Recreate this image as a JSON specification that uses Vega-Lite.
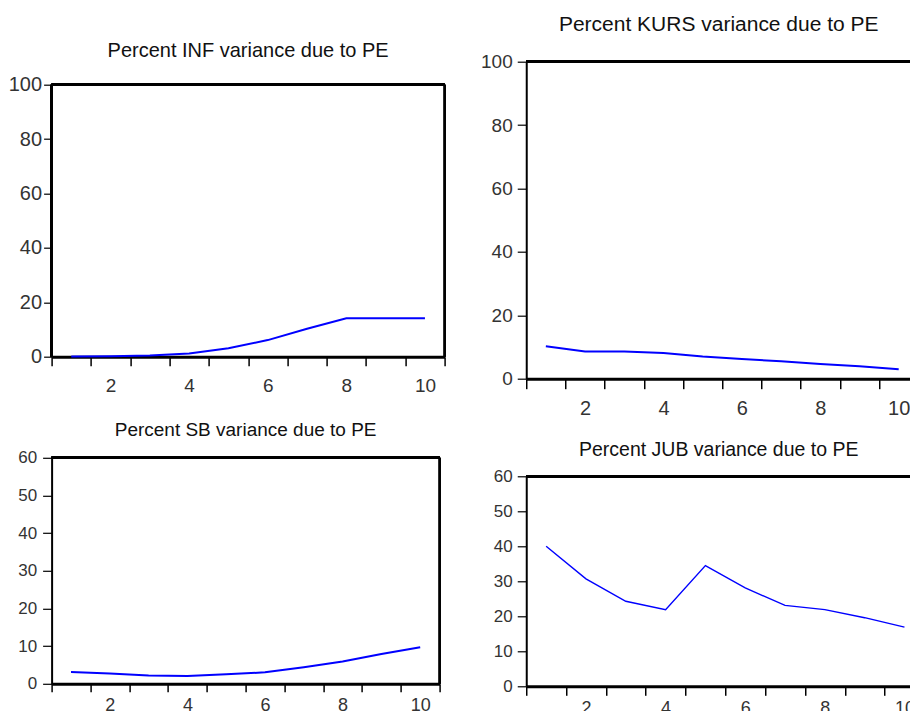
{
  "$schema": "https://vega.github.io/schema/vega-lite/v6.json",
  "padding": {"left": 7.6, "top": 13.7, "right": 0, "bottom": 0},
  "background": "white",
  "datasets": {
    "fevd": [
      {"period": 1, "INF": 0.1, "KURS": 10.2, "SB": 3.1, "JUB": 40.0},
      {"period": 2, "INF": 0.2, "KURS": 8.6, "SB": 2.7, "JUB": 30.7},
      {"period": 3, "INF": 0.4, "KURS": 8.6, "SB": 2.2, "JUB": 24.3},
      {"period": 4, "INF": 1.2, "KURS": 8.1, "SB": 2.1, "JUB": 21.9},
      {"period": 5, "INF": 3.1, "KURS": 7.0, "SB": 2.5, "JUB": 34.5},
      {"period": 6, "INF": 6.1, "KURS": 6.2, "SB": 3.05, "JUB": 28.1},
      {"period": 7, "INF": 10.3, "KURS": 5.5, "SB": 4.4, "JUB": 23.1},
      {"period": 8, "INF": 14.1, "KURS": 4.6, "SB": 5.9, "JUB": 21.9},
      {"period": 9, "INF": 14.1, "KURS": 3.9, "SB": 7.9, "JUB": 19.6},
      {"period": 10, "INF": 14.1, "KURS": 3.0, "SB": 9.7, "JUB": 16.9}
    ]
  },
  "config": {
    "view": {"stroke": null},
    "font": "Liberation Sans",
    "axis": {
      "grid": false,
      "domainColor": "#000",
      "tickColor": "#000",
      "labelColor": "#333",
      "labelFont": "Liberation Sans",
      "tickCount": 40,
      "title": null
    },
    "title": {"color": "#111", "font": "Liberation Sans", "fontWeight": "normal", "frame": "group", "anchor": "middle", "baseline": "top"}
  },
  "columns": 2,
  "align": "none",
  "spacing": 15.65,
  "concat": [
    {
      "spacing": 25.1,
      "vconcat": [
        {
          "width": 393,
          "height": 295,
          "title": {"text": "Percent INF variance due to PE", "fontSize": 20, "offset": 0.5},
          "data": {"name": "fevd"},
          "layer": [
            {"mark": {"type": "rule", "color": "#000", "strokeWidth": 2.5}, "encoding": {"y": {"datum": 100}}},
            {"mark": {"type": "rule", "color": "#000", "strokeWidth": 1.5}, "encoding": {"x": {"datum": 10.5}, "y": {"datum": 0}, "y2": {"datum": 100}}},
            {"mark": {"type": "rule", "color": "#000", "strokeWidth": 2}, "encoding": {"x": {"datum": 0.5}, "y": {"datum": 0}, "y2": {"datum": 100}}},
            {
              "mark": {"type": "line", "color": "#0000ff", "strokeWidth": 2},
              "encoding": {
                "x": {"field": "period", "type": "quantitative",
                  "scale": {"domain": [0.5, 10.5], "nice": false, "zero": false},
                  "axis": {"values": [0.5, 1.5, 2.5, 3.5, 4.5, 5.5, 6.5, 7.5, 8.5, 9.5, 10.5], "tickCount": 40, "tickSize": 9, "tickWidth": 1.5, "domainWidth": 3,
                    "labelExpr": "((datum.value + 0.5) % 2 == 0) ? format(datum.value + 0.5, 'd') : ''",
                    "labelOffset": 19.65, "labelPadding": 10.5, "labelFontSize": 19, "labelFlush": false, "labelOverlap": false, "labelBound": false}},
                "y": {"field": "INF", "type": "quantitative",
                  "scale": {"domain": [0, 108.456], "nice": false},
                  "axis": {"values": [0, 20, 40, 60, 80, 100], "tickCount": 40, "tickSize": 8, "tickWidth": 1.2, "domain": false, "labelPadding": 2, "labelFontSize": 20}}
              }
            }
          ]
        },
        {
          "width": 388,
          "height": 226,
          "title": {"text": "Percent SB variance due to PE", "fontSize": 19, "offset": 8.6},
          "data": {"name": "fevd"},
          "layer": [
            {"mark": {"type": "rule", "color": "#000", "strokeWidth": 2.5}, "encoding": {"y": {"datum": 60}}},
            {"mark": {"type": "rule", "color": "#000", "strokeWidth": 1.5}, "encoding": {"x": {"datum": 10.5}}},
            {
              "mark": {"type": "line", "color": "#0000ff", "strokeWidth": 2},
              "encoding": {
                "x": {"field": "period", "type": "quantitative",
                  "scale": {"domain": [0.5, 10.5], "nice": false, "zero": false},
                  "axis": {"values": [0.5, 1.5, 2.5, 3.5, 4.5, 5.5, 6.5, 7.5, 8.5, 9.5, 10.5], "tickCount": 40, "tickSize": 8, "tickWidth": 1.5, "domainWidth": 3,
                    "labelExpr": "((datum.value + 0.5) % 2 == 0) ? format(datum.value + 0.5, 'd') : ''",
                    "labelOffset": 19.4, "labelPadding": 5, "labelFontSize": 18, "labelFlush": false, "labelOverlap": false, "labelBound": false}},
                "y": {"field": "SB", "type": "quantitative",
                  "scale": {"domain": [0, 60], "nice": false},
                  "axis": {"values": [0, 10, 20, 30, 40, 50, 60], "tickCount": 40, "tickSize": 9, "tickWidth": 1.2, "domainWidth": 2, "labelPadding": 6, "labelFontSize": 17}}
              }
            }
          ]
        }
      ]
    },
    {
      "spacing": 20.6,
      "vconcat": [
        {
          "width": 385,
          "height": 317,
          "title": {"text": "Percent KURS variance due to PE", "fontSize": 21, "offset": 17.8},
          "data": {"name": "fevd"},
          "layer": [
            {"mark": {"type": "rule", "color": "#000", "strokeWidth": 2.5}, "encoding": {"y": {"datum": 100}}},
            {
              "mark": {"type": "line", "color": "#0000ff", "strokeWidth": 2},
              "encoding": {
                "x": {"field": "period", "type": "quantitative",
                  "scale": {"domain": [0.5, 10.32], "nice": false, "zero": false},
                  "axis": {"values": [0.5, 1.5, 2.5, 3.5, 4.5, 5.5, 6.5, 7.5, 8.5, 9.5], "tickCount": 40, "tickSize": 10, "tickWidth": 1.5, "domainWidth": 3,
                    "labelExpr": "((datum.value + 0.5) % 2 == 0) ? format(datum.value + 0.5, 'd') : ''",
                    "labelOffset": 19.6, "labelPadding": 10, "labelFontSize": 20, "labelFlush": false, "labelOverlap": false, "labelBound": false}},
                "y": {"field": "KURS", "type": "quantitative",
                  "scale": {"domain": [0, 100], "nice": false},
                  "axis": {"values": [0, 20, 40, 60, 80, 100], "tickCount": 40, "tickSize": 9, "tickWidth": 1.2, "domainWidth": 2, "labelPadding": 5, "labelFontSize": 19}}
              }
            }
          ]
        },
        {
          "width": 385,
          "height": 210,
          "title": {"text": "Percent JUB variance due to PE", "fontSize": 19.5, "offset": 7.2},
          "data": {"name": "fevd"},
          "layer": [
            {"mark": {"type": "rule", "color": "#000", "strokeWidth": 2.5}, "encoding": {"y": {"datum": 60}}},
            {
              "mark": {"type": "line", "color": "#0000ff", "strokeWidth": 1.4},
              "encoding": {
                "x": {"field": "period", "type": "quantitative",
                  "scale": {"domain": [0.5, 10.17], "nice": false, "zero": false},
                  "axis": {"values": [0.5, 1.5, 2.5, 3.5, 4.5, 5.5, 6.5, 7.5, 8.5, 9.5], "tickCount": 40, "tickSize": 9, "tickWidth": 1.5, "domainWidth": 3,
                    "labelExpr": "((datum.value + 0.5) % 2 == 0) ? format(datum.value + 0.5, 'd') : ''",
                    "labelOffset": 19.9, "labelPadding": 4, "labelFontSize": 18, "labelFlush": false, "labelOverlap": false, "labelBound": false}},
                "y": {"field": "JUB", "type": "quantitative",
                  "scale": {"domain": [0, 60], "nice": false},
                  "axis": {"values": [0, 10, 20, 30, 40, 50, 60], "tickCount": 40, "tickSize": 9, "tickWidth": 1.2, "domainWidth": 2, "labelPadding": 5, "labelFontSize": 17}}
              }
            }
          ]
        }
      ]
    }
  ]
}
